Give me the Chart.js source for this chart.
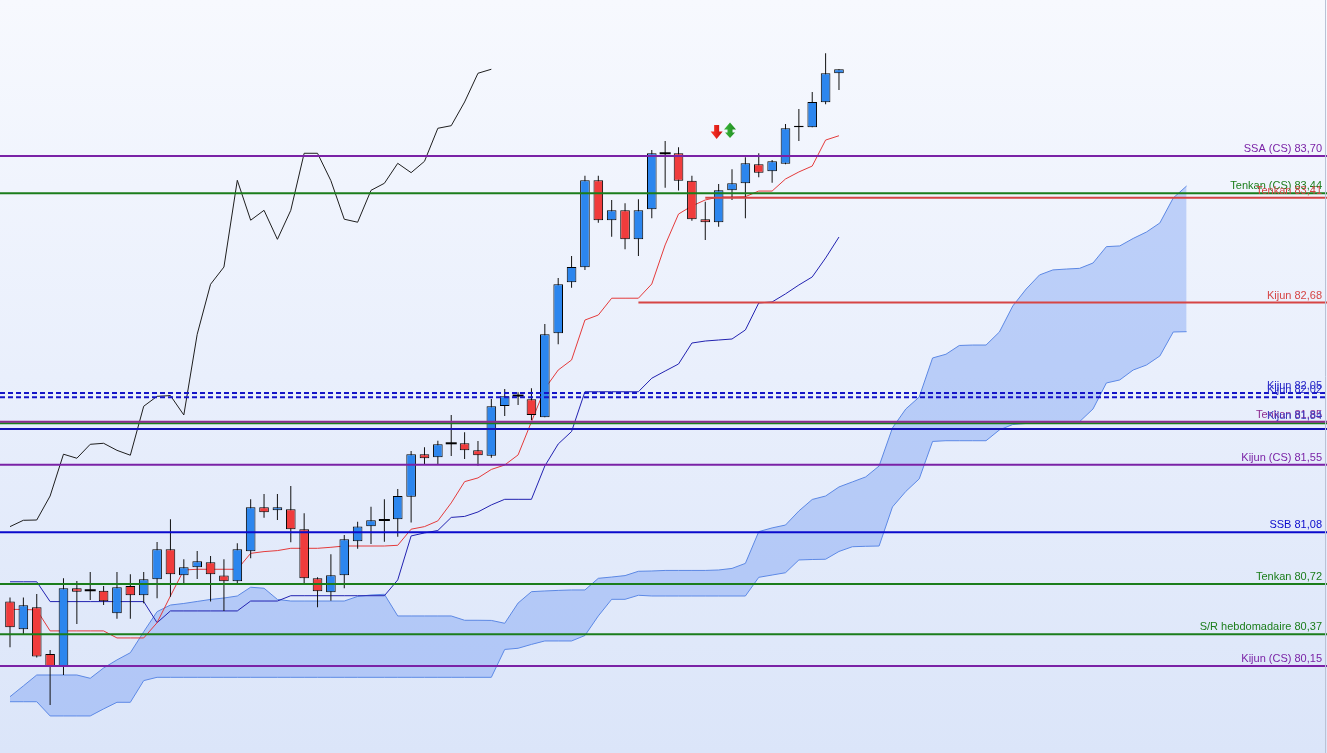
<!DOCTYPE html>
<html>
<head>
<meta charset="utf-8">
<title>Ichimoku</title>
<script src="https://cdn.jsdelivr.net/npm/chart.js@4.4.1/dist/chart.umd.min.js"></script>
<style>
  html, body { margin: 0; padding: 0; }
  #wrap {
    width: 1327px; height: 753px; position: relative;
    background: linear-gradient(to bottom, #f7f9fe 0%, #e9effc 50%, #dbe5f9 100%);
  }
</style>
</head>
<body>
<div id="wrap"><canvas id="chart"></canvas></div>
<script>
// candles
const opens = [80.598,80.405,80.559,80.233,80.145,80.691,80.677,80.674,80.517,80.707,
  80.642,80.754,80.962,80.781,80.837,80.872,80.779,80.740,80.948,81.255,
  81.234,81.241,81.102,80.760,80.663,80.781,81.018,81.122,81.166,81.171,
  81.328,81.624,81.603,81.700,81.700,81.651,81.614,81.960,82.032,82.007,
  81.881,82.466,82.821,82.925,83.531,83.253,83.322,83.120,83.329,83.719,
  83.719,83.528,83.260,83.239,83.461,83.510,83.642,83.594,83.646,83.900,
  83.900,84.074,84.276];
const highs = [80.626,80.626,80.651,80.261,80.760,80.742,80.804,80.707,80.804,80.788,
  80.804,81.013,81.171,80.893,80.950,80.916,80.893,81.004,81.310,81.347,
  81.347,81.403,81.213,80.767,80.928,81.062,81.154,81.259,81.310,81.382,
  81.647,81.672,81.718,81.897,81.777,81.716,82.009,82.078,82.055,82.083,
  82.531,82.851,83.004,83.563,83.563,83.394,83.371,83.399,83.742,83.805,
  83.761,83.563,83.382,83.505,83.608,83.691,83.719,83.672,83.923,84.027,
  84.146,84.415,84.304];
const lows = [80.280,80.366,80.208,79.879,80.087,80.442,80.609,80.575,80.479,80.479,
  80.586,80.621,80.632,80.726,80.756,80.598,80.533,80.726,80.900,81.182,
  81.166,81.011,80.726,80.559,80.604,80.691,80.966,80.999,81.015,81.050,
  81.148,81.556,81.549,81.612,81.591,81.544,81.600,81.890,81.967,81.862,
  81.881,82.389,82.783,82.907,83.236,83.138,83.051,83.004,83.266,83.479,
  83.459,83.250,83.115,83.208,83.394,83.266,83.552,83.514,83.642,83.805,
  83.900,84.060,84.160];
const closes = [80.419,80.573,80.215,80.145,80.691,80.667,80.677,80.600,80.698,80.642,
  80.754,80.962,80.788,80.837,80.879,80.788,80.740,80.962,81.255,81.220,
  81.255,81.102,80.760,80.670,80.781,81.032,81.120,81.164,81.166,81.333,
  81.624,81.596,81.693,81.700,81.651,81.617,81.958,82.027,82.032,81.897,
  82.459,82.807,82.927,83.531,83.253,83.322,83.120,83.322,83.719,83.719,
  83.528,83.260,83.239,83.461,83.510,83.649,83.584,83.663,83.893,83.911,
  84.076,84.276,84.304];

// ichimoku lines
const tenkan = [80.544,80.543,80.540,80.394,80.394,80.394,80.394,80.394,80.345,80.345,
  80.345,80.451,80.637,80.818,80.823,80.823,80.823,80.823,80.934,80.946,
  80.953,80.969,80.969,80.969,80.976,80.985,80.985,80.985,80.985,80.990,
  81.102,81.120,81.160,81.285,81.433,81.459,81.518,81.549,81.619,81.850,
  82.080,82.210,82.280,82.558,82.593,82.710,82.710,82.710,82.809,83.081,
  83.296,83.352,83.394,83.415,83.415,83.417,83.456,83.456,83.540,83.589,
  83.630,83.811,83.841];
const kijun = [80.736,80.736,80.736,80.598,80.598,80.598,80.598,80.598,80.598,80.598,
  80.598,80.451,80.533,80.533,80.533,80.533,80.533,80.533,80.602,80.602,
  80.602,80.639,80.639,80.639,80.639,80.639,80.639,80.639,80.639,80.749,
  81.055,81.076,81.093,81.184,81.191,81.222,81.271,81.310,81.310,81.310,
  81.542,81.695,81.782,82.059,82.059,82.059,82.059,82.059,82.153,82.203,
  82.252,82.398,82.412,82.419,82.426,82.489,82.677,82.684,82.740,82.802,
  82.858,82.990,83.136];
const ssa = [79.936,80.011,80.087,80.087,80.087,80.087,80.064,80.136,80.192,80.242,
  80.388,80.528,80.574,80.585,80.599,80.613,80.623,80.637,80.698,80.691,
  80.613,80.602,80.602,80.602,80.602,80.602,80.634,80.644,80.649,80.498,
  80.498,80.498,80.498,80.498,80.468,80.468,80.467,80.447,80.588,80.667,
  80.672,80.676,80.679,80.679,80.760,80.769,80.779,80.809,80.811,80.815,
  80.815,80.815,80.815,80.818,80.829,80.864,81.085,81.111,81.131,81.229,
  81.309,81.333,81.396,81.431,81.466,81.542,81.807,81.939,82.022,82.294,
  82.320,82.381,82.384,82.384,82.475,82.656,82.774,82.872,82.907,82.913,
  82.918,82.955,83.069,83.074,83.126,83.171,83.234,83.408,83.491];
const ssb = [79.901,79.901,79.901,79.802,79.802,79.802,79.802,79.851,79.897,79.897,
  80.048,80.071,80.071,80.071,80.071,80.071,80.071,80.071,80.071,80.071,
  80.071,80.071,80.071,80.071,80.071,80.071,80.071,80.071,80.071,80.071,
  80.071,80.071,80.071,80.071,80.071,80.071,80.071,80.265,80.273,80.300,
  80.324,80.324,80.324,80.362,80.498,80.614,80.614,80.642,80.637,80.637,
  80.637,80.637,80.637,80.637,80.637,80.637,80.767,80.783,80.799,80.888,
  80.891,80.893,80.947,80.980,80.983,80.985,81.257,81.365,81.452,81.713,
  81.718,81.718,81.718,81.718,81.793,81.831,81.838,81.841,81.845,81.848,
  81.851,81.939,82.120,82.141,82.210,82.245,82.308,82.475,82.477];
const chikouShift = 26;

// horizontal levels
const levelNames = ['SSA (CS)', 'Tenkan (CS)', 'Tenkan', 'Kijun', 'Kijun', 'Kijun', 'Tenkan',
  'Kijun', '', 'Kijun (CS)', 'SSB', 'Tenkan', 'S/R hebdomadaire', 'Kijun (CS)'];
const levelValues = [83.70, 83.44, 83.41, 82.68, 82.05, 82.02, 81.85,
  81.84, 81.80, 81.55, 81.08, 80.72, 80.37, 80.15];
const levelFrom = [null, null, 52, 47, null, null, null, null, null, null, null, null, null, null];

// signal arrows
const arrowIdx = [53, 54];
const arrowPrice = [83.87, 83.87];
const arrowKind = ['down', 'updown'];

// styles
const levelColors = ['#7a22a6', '#1b7d1b', '#d64545', '#d64545', '#1414c8', '#1414c8', '#8c2c90',
  '#1b7d1b', '#1414b4', '#7a22a6', '#0a0acc', '#1b7d1b', '#1b7d1b', '#7a22a6'];
const labelColors = ['#7a22a6', '#1b7d1b', '#d64545', '#d64545', '#2a2ac8', '#2a2ac8', '#8c2c90',
  '#3a3ac0', '', '#7a22a6', '#0a0acc', '#1b7d1b', '#1b7d1b', '#7a22a6'];
const levelDashed = [false, false, false, false, true, true, false, false, false, false, false, false, false, false];

const xMin = -0.748, xMax = 98.5;
const yMin = 79.544, yMax = 84.786;

const idx = opens.map((v, i) => i);
const bodyColors = idx.map(i => closes[i] > opens[i] ? '#2c86ee' : (closes[i] < opens[i] ? '#f03c3c' : '#000'));

function series(arr, shift) {
    return arr.map((v, i) => ({x: i - (shift || 0), y: v}));
}

const datasets = [];

levelValues.forEach((v, k) => {
    datasets.push({
        type: 'line',
        data: [{x: levelFrom[k] == null ? xMin : levelFrom[k], y: v}, {x: xMax, y: v}],
        borderColor: levelColors[k],
        borderWidth: 2,
        borderDash: levelDashed[k] ? [5, 3] : [],
        pointRadius: 0,
        order: 1
    });
});

datasets.push({
    type: 'scatter',
    data: idx.filter(i => opens[i] === closes[i]).map(i => ({x: i, y: closes[i]})),
    pointStyle: 'line',
    pointRadius: 5.5,
    borderColor: '#000',
    borderWidth: 2,
    order: 2
});

datasets.push({
    type: 'bar',
    data: idx.map(i => ({x: i, y: [opens[i], closes[i]]})),
    backgroundColor: bodyColors,
    borderColor: '#000',
    borderWidth: 1,
    borderSkipped: false,
    grouped: false,
    maxBarThickness: 10,
    order: 2
});

datasets.push({
    type: 'bar',
    data: idx.map(i => ({x: i, y: [lows[i], highs[i]]})),
    backgroundColor: '#111',
    borderWidth: 0,
    grouped: false,
    maxBarThickness: 1,
    order: 3
});

datasets.push({type: 'line', data: series(tenkan), borderColor: '#e43a3a', borderWidth: 1, pointRadius: 0, order: 4});
datasets.push({type: 'line', data: series(kijun), borderColor: '#2222b0', borderWidth: 1, pointRadius: 0, order: 4});
datasets.push({type: 'line', data: series(closes.slice(chikouShift)), borderColor: '#1e1e1e', borderWidth: 1, pointRadius: 0, order: 4});

datasets.push({
    type: 'line',
    data: series(ssa),
    borderColor: '#5b87e3',
    borderWidth: 1,
    pointRadius: 0,
    fill: '+1',
    backgroundColor: 'rgba(100,144,242,0.36)',
    order: 5
});
datasets.push({type: 'line', data: series(ssb), borderColor: '#5b87e3', borderWidth: 1, pointRadius: 0, fill: false, order: 5});

function drawArrow(ctx, x, y, kind) {
    ctx.beginPath();
    if (kind === 'down') {
        const g = ctx.createLinearGradient(x - 6, 0, x + 6, 0);
        g.addColorStop(0, '#ff3a2a');
        g.addColorStop(1, '#c80c0c');
        ctx.fillStyle = g;
        ctx.rect(x - 2.5, y - 6.5, 5, 7);
        ctx.moveTo(x - 6, y);
        ctx.lineTo(x + 6, y);
        ctx.lineTo(x, y + 7.5);
        ctx.closePath();
    } else {
        const g = ctx.createLinearGradient(x - 6, 0, x + 6, 0);
        g.addColorStop(0, '#3cb83c');
        g.addColorStop(1, '#1e8a1e');
        ctx.fillStyle = g;
        ctx.moveTo(x, y - 9);
        ctx.lineTo(x + 6, y - 2);
        ctx.lineTo(x - 6, y - 2);
        ctx.closePath();
        ctx.rect(x - 2.5, y - 2.5, 5, 4);
        ctx.moveTo(x - 5, y + 1);
        ctx.lineTo(x + 5, y + 1);
        ctx.lineTo(x, y + 6.5);
        ctx.closePath();
    }
    ctx.fill();
}

const overlay = {
    id: 'overlay',
    afterDatasetsDraw(chart) {
        const ctx = chart.ctx;
        const xs = chart.scales.x, ys = chart.scales.y;
        ctx.save();
        ctx.font = '11px "Liberation Sans", Arial, sans-serif';
        ctx.textAlign = 'right';
        ctx.textBaseline = 'alphabetic';
        levelValues.forEach((v, k) => {
            if (!levelNames[k]) return;
            ctx.fillStyle = labelColors[k];
            ctx.fillText(levelNames[k] + ' ' + v.toFixed(2).replace('.', ','), chart.width - 5, ys.getPixelForValue(v) - 4);
        });
        arrowIdx.forEach((a, k) => {
            drawArrow(ctx, xs.getPixelForValue(a) - 2, ys.getPixelForValue(arrowPrice[k]), arrowKind[k]);
        });
        ctx.strokeStyle = '#b9c3d6';
        ctx.lineWidth = 1;
        ctx.beginPath();
        ctx.moveTo(chart.width - 1.5, 0);
        ctx.lineTo(chart.width - 1.5, chart.height);
        ctx.stroke();
        ctx.restore();
    }
};

new Chart(document.getElementById('chart'), {
    type: 'bar',
    data: {datasets: datasets},
    options: {
        responsive: true,
        maintainAspectRatio: false,
        animation: false,
        events: [],
        layout: {padding: 0, autoPadding: false},
        elements: {line: {tension: 0}},
        plugins: {legend: {display: false}, tooltip: {enabled: false}},
        scales: {
            x: {type: 'linear', min: xMin, max: xMax, offset: false, display: false, grid: {display: false}},
            y: {type: 'linear', min: yMin, max: yMax, display: false, grid: {display: false}}
        }
    },
    plugins: [overlay]
});
</script>
</body>
</html>
